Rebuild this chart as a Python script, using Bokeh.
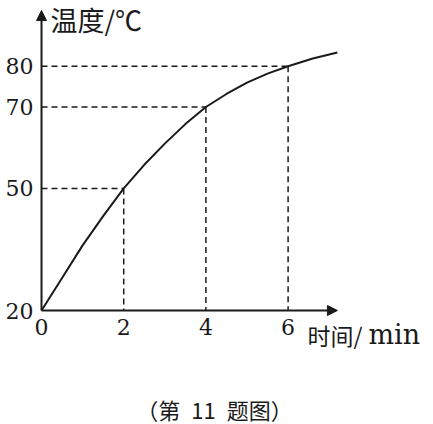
from bokeh.plotting import figure
from bokeh.models import Range1d, Arrow, NormalHead, Label
from bokeh.embed import file_html
from bokeh.resources import INLINE

# data
time_min = [0, 0.5, 1, 1.5, 2, 2.5, 3, 3.5, 4, 4.5, 5, 5.5, 6, 6.6, 7.2]
temp_c = [20, 28, 36, 43.2, 50, 55.8, 61, 65.8, 70, 73.2, 76, 78.2, 80, 81.9, 83.4]
marked_time = [2, 4, 6]
marked_temp = [50, 70, 80]
x_ticks = [0, 2, 4, 6]
y_ticks = [20, 50, 70, 80]
x_tick_labels = ["0", "2", "4", "6"]
y_tick_labels = ["20", "50", "70", "80"]
x_axis_end = 7.2
y_axis_start = 20
y_axis_end = 93.7

INK = "#1a1a1a"
CJK = "Noto Sans CJK SC"
SERIF = "DejaVu Serif"

p = figure(width=433, height=424, output_backend="svg", toolbar_location=None,
           x_range=Range1d(-0.998, 9.538), y_range=Range1d(-8.01, 96.17),
           x_axis_location=None, y_axis_location=None, min_border=0)
p.grid.visible = False
p.outline_line_color = None
p.background_fill_color = "white"
p.border_fill_color = "white"

# axes with arrow heads
p.add_layout(Arrow(end=NormalHead(size=10, fill_color=INK, line_color=INK),
                   x_start=0, y_start=y_axis_start, x_end=0, y_end=y_axis_end,
                   line_width=2, line_color=INK))
p.add_layout(Arrow(end=NormalHead(size=10, fill_color=INK, line_color=INK),
                   x_start=0, y_start=y_axis_start, x_end=x_axis_end, y_end=y_axis_start,
                   line_width=2, line_color=INK))

# tick labels
p.text(x=x_ticks, y=[y_axis_start] * len(x_ticks), text=x_tick_labels,
       text_font={"value": SERIF}, text_font_size={"value": "22px"}, text_color=INK,
       text_align="center", text_baseline="top", y_offset=8)
p.text(x=[0] * len(y_ticks), y=y_ticks, text=y_tick_labels,
       text_font={"value": SERIF}, text_font_size={"value": "22px"}, text_color=INK,
       text_align="right", text_baseline="middle", x_offset=-8)

# dashed guide lines
p.segment(x0=[0] * len(marked_time), y0=marked_temp, x1=marked_time, y1=marked_temp,
          line_color=INK, line_width=1.5, line_dash="6 4")
p.segment(x0=marked_time, y0=marked_temp, x1=marked_time, y1=[y_axis_start] * len(marked_time),
          line_color=INK, line_width=1.5, line_dash="6 4")

# curve
p.line(time_min, temp_c, line_width=2, line_color=INK)

# axis titles
p.add_layout(Label(x=0, y=y_axis_end, x_offset=9, y_offset=-9, text="温度/℃",
                   text_font=CJK, text_font_size="27px", text_color=INK,
                   text_align="left", text_baseline="middle"))
p.add_layout(Label(x=x_axis_end, y=y_axis_start, x_offset=-30, y_offset=-24, text="时间/",
                   text_font=CJK, text_font_size="23px", text_color=INK,
                   text_align="left", text_baseline="middle"))
p.add_layout(Label(x=x_axis_end, y=y_axis_start, x_offset=31, y_offset=-24, text="min",
                   text_font=SERIF, text_font_size="27px", text_color=INK,
                   text_align="left", text_baseline="middle"))

# caption
p.add_layout(Label(x=x_axis_end / 2, y=y_axis_start, x_offset=25, y_offset=-98,
                   text="（第\u200211\u2002题图）", text_font=CJK, text_font_size="22px",
                   text_color=INK, text_align="center", text_baseline="middle"))

open("out.html", "w").write(file_html(p, INLINE))
